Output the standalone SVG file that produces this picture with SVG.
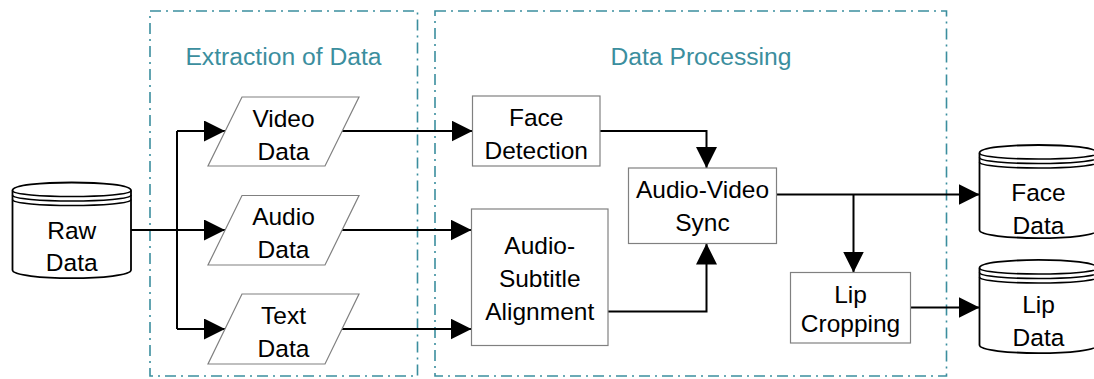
<svg xmlns="http://www.w3.org/2000/svg" width="1094" height="379" viewBox="0 0 1094 379">
  <style>
    .group { fill: none; stroke: #3b8e9e; stroke-width: 1.6; stroke-dasharray: 11 5 2 5; }
    .title { font-family: "Liberation Sans", Arial, sans-serif; font-size: 24.7px; fill: #3b8e9e; text-anchor: middle; }
    .label { font-family: "Liberation Sans", Arial, sans-serif; font-size: 24.5px; fill: #000; text-anchor: middle; }
    .box { fill: #fff; stroke: #808080; stroke-width: 1.2; }
    .cyl { fill: #fff; stroke: #000; stroke-width: 1.8; }
    .cylline { fill: none; stroke: #000; stroke-width: 1.6; }
    .conn { fill: none; stroke: #000; stroke-width: 2; }
  </style>
  <defs>
    <marker id="arrow" markerUnits="userSpaceOnUse" markerWidth="21" markerHeight="21" refX="21" refY="10.5" orient="auto" viewBox="0 0 21 21">
      <path d="M0,0 L21,10.5 L0,21 Z" fill="#000"/>
    </marker>
  </defs>
  <rect width="1094" height="379" fill="#fff"/>

  <g id="group-extraction">
    <rect class="group" x="150" y="11" width="267.5" height="365"/>
    <text class="title" x="283.5" y="65">Extraction of Data</text>
  </g>
  <g id="group-processing">
    <rect class="group" x="435" y="11" width="511.5" height="365"/>
    <text class="title" x="701" y="65">Data Processing</text>
  </g>

  <g id="connectors">
    <path class="conn" d="M177,131 V329"/>
    <path class="conn" d="M177,131 H225" marker-end="url(#arrow)"/>
    <path class="conn" d="M131,230 H225" marker-end="url(#arrow)"/>
    <path class="conn" d="M177,329 H225" marker-end="url(#arrow)"/>
    <path class="conn" d="M342,131 H472.5" marker-end="url(#arrow)"/>
    <path class="conn" d="M342,230 H471.5" marker-end="url(#arrow)"/>
    <path class="conn" d="M342,329 H471.5" marker-end="url(#arrow)"/>
    <path class="conn" d="M600,131 H706.5 V168" marker-end="url(#arrow)"/>
    <path class="conn" d="M608,311.5 H706.5 V243.5" marker-end="url(#arrow)"/>
    <path class="conn" d="M776.5,194.5 H979.5" marker-end="url(#arrow)"/>
    <path class="conn" d="M853.5,194.5 V272.5" marker-end="url(#arrow)"/>
    <path class="conn" d="M910.5,307.5 H979.5" marker-end="url(#arrow)"/>
  </g>

  <g id="raw-data">
    <path class="cyl" d="M12.5,190.5 C12.5,179.8 131,179.8 131,190.5 L131,270 C131,280.7 12.5,280.7 12.5,270 Z"/>
    <path class="cylline" d="M12.5,190.5 C12.5,198.5 131,198.5 131,190.5 M12.5,195 C12.5,203 131,203 131,195 M12.5,199.5 C12.5,207.5 131,207.5 131,199.5"/>
    <text class="label" x="71.75" y="238.5">Raw</text>
    <text class="label" x="71.75" y="271">Data</text>
  </g>

  <g id="video-data">
    <polygon class="box" points="242,97 359,97 325,166 208,166"/>
    <text class="label" x="283.5" y="127">Video</text>
    <text class="label" x="283.5" y="160">Data</text>
  </g>
  <g id="audio-data">
    <polygon class="box" points="242,195.5 359,195.5 325,265 208,265"/>
    <text class="label" x="283.5" y="224.5">Audio</text>
    <text class="label" x="283.5" y="257.5">Data</text>
  </g>
  <g id="text-data">
    <polygon class="box" points="242,294 359,294 325,364 208,364"/>
    <text class="label" x="283.5" y="324">Text</text>
    <text class="label" x="283.5" y="357">Data</text>
  </g>

  <g id="face-detection">
    <rect class="box" x="472.5" y="96" width="127.5" height="70"/>
    <text class="label" x="536.25" y="126">Face</text>
    <text class="label" x="536.25" y="159">Detection</text>
  </g>
  <g id="audio-subtitle-alignment">
    <rect class="box" x="471.5" y="209" width="136.5" height="136.5"/>
    <text class="label" x="539.75" y="254">Audio-</text>
    <text class="label" x="539.75" y="287">Subtitle</text>
    <text class="label" x="539.75" y="320">Alignment</text>
  </g>
  <g id="audio-video-sync">
    <rect class="box" x="628.5" y="168" width="148" height="75.5"/>
    <text class="label" x="702.5" y="198">Audio-Video</text>
    <text class="label" x="702.5" y="231">Sync</text>
  </g>
  <g id="lip-cropping">
    <rect class="box" x="790.5" y="272.5" width="120" height="70.5"/>
    <text class="label" x="850.5" y="302.5">Lip</text>
    <text class="label" x="850.5" y="331.5">Cropping</text>
  </g>

  <g id="face-data">
    <path class="cyl" d="M979.5,153 C979.5,142.3 1097.5,142.3 1097.5,153 L1097.5,230 C1097.5,240.7 979.5,240.7 979.5,230 Z"/>
    <path class="cylline" d="M979.5,153 C979.5,161 1097.5,161 1097.5,153 M979.5,157.5 C979.5,165.5 1097.5,165.5 1097.5,157.5 M979.5,162 C979.5,170 1097.5,170 1097.5,162"/>
    <text class="label" x="1038.5" y="200.5">Face</text>
    <text class="label" x="1038.5" y="233.5">Data</text>
  </g>
  <g id="lip-data">
    <path class="cyl" d="M979.5,268 C979.5,257.3 1097.5,257.3 1097.5,268 L1097.5,345 C1097.5,355.7 979.5,355.7 979.5,345 Z"/>
    <path class="cylline" d="M979.5,268 C979.5,276 1097.5,276 1097.5,268 M979.5,272.5 C979.5,280.5 1097.5,280.5 1097.5,272.5 M979.5,277 C979.5,285 1097.5,285 1097.5,277"/>
    <text class="label" x="1038.5" y="313">Lip</text>
    <text class="label" x="1038.5" y="346">Data</text>
  </g>
</svg>
